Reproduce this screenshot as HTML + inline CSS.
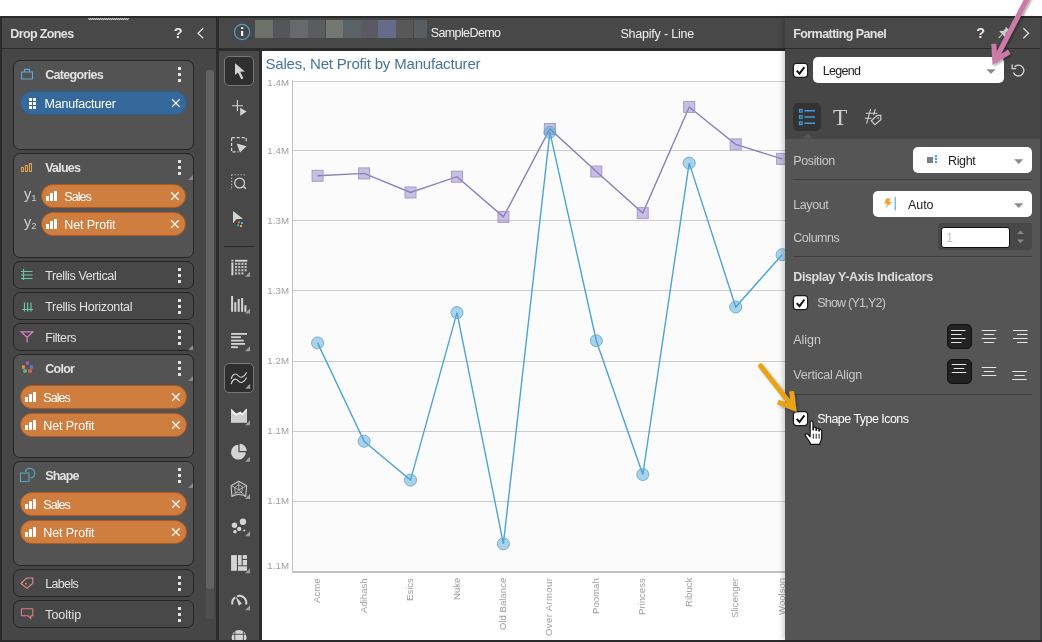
<!DOCTYPE html>
<html><head><meta charset="utf-8"><title>Shapify - Line</title>
<style>
html,body{margin:0;padding:0;background:#fff;}
body{width:1042px;height:642px;position:relative;overflow:hidden;font-family:"Liberation Sans", sans-serif;}
.b{position:absolute;box-sizing:border-box;}
.t{position:absolute;white-space:pre;display:block;}
svg{position:absolute;left:0;top:0;overflow:visible;}
</style></head><body>
<div class="b" style="left:0px;top:16px;width:1042px;height:626px;background:#2b2b2b;"></div>
<div class="b" style="left:2px;top:18px;width:214px;height:30px;background:#484848;"></div>
<div class="b" style="left:2px;top:49px;width:214px;height:591px;background:#464646;"></div>
<svg width="1042" height="642"><path d="M88.5 18 l1 2 l1 -2 l1 2 l1 -2 l1 2 l1 -2 l1 2 l1 -2 l1 2 l1 -2 l1 2 l1 -2 l1 2 l1 -2 l1 2 l1 -2 l1 2 l1 -2 l1 2 l1 -2 l1 2 l1 -2 l1 2 l1 -2 l1 2 l1 -2 l1 2 l1 -2 l1 2 l1 -2 l1 2 l1 -2 l1 2 l1 -2 l1 2 l1 -2 l1 2 l1 -2 l1 2 l1 -2" stroke="#dcdcdc" stroke-width="0.9" fill="none"/></svg>
<span class="t" style="left:10.3px;top:23.5px;height:20px;line-height:20px;font-size:12.5px;font-weight:700;color:#e2e2e2;letter-spacing:-0.625px;">Drop Zones</span>
<span class="t" style="left:173.8px;top:23.3px;height:20px;line-height:20px;font-size:14.5px;font-weight:700;color:#e8e8e8;">?</span>
<svg width="1042" height="642"><path d="M203.2 28.2 L198 33.2 L203.2 38.2" stroke="#e4e4e4" stroke-width="1.2" fill="none"/></svg>
<div class="b" style="left:206px;top:70px;width:8px;height:549px;background:#4f4f4f;border-radius:3px;"></div>
<div class="b" style="left:206px;top:70px;width:8px;height:519px;background:#626262;border-radius:3px;"></div>
<div class="b" style="left:13px;top:60px;width:181px;height:90px;background:#535353;border:1px solid #242424;border-radius:7px;"></div>
<span class="t" style="left:45.2px;top:65.0px;height:20px;line-height:20px;font-size:12.5px;font-weight:700;color:#e2e2e2;letter-spacing:-0.671px;">Categories</span>
<div class="b" style="left:178px;top:67px;width:3px;height:3px;background:#e4e4e4;"></div>
<div class="b" style="left:178px;top:73px;width:3px;height:3px;background:#e4e4e4;"></div>
<div class="b" style="left:178px;top:79px;width:3px;height:3px;background:#e4e4e4;"></div>
<div class="b" style="left:20px;top:91px;width:167px;height:24px;background:#36699b;border:1px solid #2f5d8b;border-radius:12px;"></div>
<div class="b" style="left:28.5px;top:98px;width:3px;height:3px;background:#fff;"></div>
<div class="b" style="left:32.5px;top:98px;width:3px;height:3px;background:#fff;"></div>
<div class="b" style="left:28.5px;top:102px;width:3px;height:3px;background:#fff;"></div>
<div class="b" style="left:32.5px;top:102px;width:3px;height:3px;background:#fff;"></div>
<div class="b" style="left:28.5px;top:106px;width:3px;height:3px;background:#fff;"></div>
<div class="b" style="left:32.5px;top:106px;width:3px;height:3px;background:#fff;"></div>
<span class="t" style="left:44.5px;top:94.2px;height:20px;line-height:20px;font-size:12.5px;font-weight:400;color:#fff;letter-spacing:-0.213px;">Manufacturer</span>
<svg width="1042" height="642"><path d="M172.1 99.3 L179.70000000000002 106.89999999999999 M179.70000000000002 99.3 L172.1 106.89999999999999" stroke="#fff" stroke-width="1.3" fill="none"/></svg>
<div class="b" style="left:13px;top:153px;width:181px;height:105px;background:#535353;border:1px solid #242424;border-radius:7px;"></div>
<span class="t" style="left:45.2px;top:158.0px;height:20px;line-height:20px;font-size:12.5px;font-weight:700;color:#e2e2e2;letter-spacing:-0.771px;">Values</span>
<div class="b" style="left:178px;top:160px;width:3px;height:3px;background:#e4e4e4;"></div>
<div class="b" style="left:178px;top:166px;width:3px;height:3px;background:#e4e4e4;"></div>
<div class="b" style="left:178px;top:172px;width:3px;height:3px;background:#e4e4e4;"></div>
<svg width="1042" height="642"><path d="M193 175 L193 180 L188 180 Z" fill="#8a8a8a"/></svg>
<span class="t" style="left:24px;top:183.5px;height:20px;line-height:20px;font-size:14.5px;font-weight:400;color:#d0d0d0;">y</span>
<span class="t" style="left:31.3px;top:187.5px;height:20px;line-height:20px;font-size:9.5px;font-weight:400;color:#d0d0d0;">1</span>
<span class="t" style="left:24px;top:211.5px;height:20px;line-height:20px;font-size:14.5px;font-weight:400;color:#d0d0d0;">y</span>
<span class="t" style="left:31.3px;top:215.5px;height:20px;line-height:20px;font-size:9.5px;font-weight:400;color:#d0d0d0;">2</span>
<div class="b" style="left:41px;top:184px;width:145px;height:24px;background:#d07e40;border:1px solid #ad5a22;border-radius:12px;"></div>
<div class="b" style="left:46px;top:196px;width:3px;height:5px;background:#fff;"></div>
<div class="b" style="left:50px;top:193px;width:3px;height:8px;background:#fff;"></div>
<div class="b" style="left:54px;top:191px;width:3px;height:10px;background:#fff;"></div>
<span class="t" style="left:64.3px;top:187.2px;height:20px;line-height:20px;font-size:12.5px;font-weight:400;color:#fff;letter-spacing:-0.936px;">Sales</span>
<svg width="1042" height="642"><path d="M171.1 192.29999999999998 L178.70000000000002 199.9 M178.70000000000002 192.29999999999998 L171.1 199.9" stroke="#fff" stroke-width="1.3" fill="none"/></svg>
<div class="b" style="left:41px;top:212px;width:145px;height:24px;background:#d07e40;border:1px solid #ad5a22;border-radius:12px;"></div>
<div class="b" style="left:46px;top:224px;width:3px;height:5px;background:#fff;"></div>
<div class="b" style="left:50px;top:221px;width:3px;height:8px;background:#fff;"></div>
<div class="b" style="left:54px;top:219px;width:3px;height:10px;background:#fff;"></div>
<span class="t" style="left:64.3px;top:215.2px;height:20px;line-height:20px;font-size:12.5px;font-weight:400;color:#fff;letter-spacing:-0.091px;">Net Profit</span>
<svg width="1042" height="642"><path d="M171.1 220.29999999999998 L178.70000000000002 227.9 M178.70000000000002 220.29999999999998 L171.1 227.9" stroke="#fff" stroke-width="1.3" fill="none"/></svg>
<div class="b" style="left:13px;top:261px;width:181px;height:28px;background:#484848;border:1px solid #242424;border-radius:7px;"></div>
<span class="t" style="left:45.2px;top:266.0px;height:20px;line-height:20px;font-size:12.5px;font-weight:400;color:#e2e2e2;letter-spacing:-0.390px;">Trellis Vertical</span>
<div class="b" style="left:178px;top:268px;width:3px;height:3px;background:#e4e4e4;"></div>
<div class="b" style="left:178px;top:274px;width:3px;height:3px;background:#e4e4e4;"></div>
<div class="b" style="left:178px;top:280px;width:3px;height:3px;background:#e4e4e4;"></div>
<div class="b" style="left:13px;top:292px;width:181px;height:28px;background:#484848;border:1px solid #242424;border-radius:7px;"></div>
<span class="t" style="left:45.2px;top:297.0px;height:20px;line-height:20px;font-size:12.5px;font-weight:400;color:#e2e2e2;letter-spacing:-0.312px;">Trellis Horizontal</span>
<div class="b" style="left:178px;top:299px;width:3px;height:3px;background:#e4e4e4;"></div>
<div class="b" style="left:178px;top:305px;width:3px;height:3px;background:#e4e4e4;"></div>
<div class="b" style="left:178px;top:311px;width:3px;height:3px;background:#e4e4e4;"></div>
<div class="b" style="left:13px;top:323px;width:181px;height:28px;background:#484848;border:1px solid #242424;border-radius:7px;"></div>
<span class="t" style="left:45.2px;top:328.0px;height:20px;line-height:20px;font-size:12.5px;font-weight:400;color:#e2e2e2;letter-spacing:-0.433px;">Filters</span>
<div class="b" style="left:178px;top:330px;width:3px;height:3px;background:#e4e4e4;"></div>
<div class="b" style="left:178px;top:336px;width:3px;height:3px;background:#e4e4e4;"></div>
<div class="b" style="left:178px;top:342px;width:3px;height:3px;background:#e4e4e4;"></div>
<svg width="1042" height="642"><path d="M193 345 L193 350 L188 350 Z" fill="#8a8a8a"/></svg>
<div class="b" style="left:13px;top:354px;width:181px;height:104px;background:#535353;border:1px solid #242424;border-radius:7px;"></div>
<span class="t" style="left:45.2px;top:359.0px;height:20px;line-height:20px;font-size:12.5px;font-weight:700;color:#e2e2e2;letter-spacing:-0.728px;">Color</span>
<div class="b" style="left:178px;top:361px;width:3px;height:3px;background:#e4e4e4;"></div>
<div class="b" style="left:178px;top:367px;width:3px;height:3px;background:#e4e4e4;"></div>
<div class="b" style="left:178px;top:373px;width:3px;height:3px;background:#e4e4e4;"></div>
<svg width="1042" height="642"><path d="M193 376 L193 381 L188 381 Z" fill="#8a8a8a"/></svg>
<div class="b" style="left:20px;top:385px;width:167px;height:24px;background:#d07e40;border:1px solid #ad5a22;border-radius:12px;"></div>
<div class="b" style="left:25px;top:397px;width:3px;height:5px;background:#fff;"></div>
<div class="b" style="left:29px;top:394px;width:3px;height:8px;background:#fff;"></div>
<div class="b" style="left:33px;top:392px;width:3px;height:10px;background:#fff;"></div>
<span class="t" style="left:43.3px;top:388.2px;height:20px;line-height:20px;font-size:12.5px;font-weight:400;color:#fff;letter-spacing:-0.936px;">Sales</span>
<svg width="1042" height="642"><path d="M172.1 393.3 L179.70000000000002 400.90000000000003 M179.70000000000002 393.3 L172.1 400.90000000000003" stroke="#fff" stroke-width="1.3" fill="none"/></svg>
<div class="b" style="left:20px;top:413px;width:167px;height:24px;background:#d07e40;border:1px solid #ad5a22;border-radius:12px;"></div>
<div class="b" style="left:25px;top:425px;width:3px;height:5px;background:#fff;"></div>
<div class="b" style="left:29px;top:422px;width:3px;height:8px;background:#fff;"></div>
<div class="b" style="left:33px;top:420px;width:3px;height:10px;background:#fff;"></div>
<span class="t" style="left:43.3px;top:416.2px;height:20px;line-height:20px;font-size:12.5px;font-weight:400;color:#fff;letter-spacing:-0.091px;">Net Profit</span>
<svg width="1042" height="642"><path d="M172.1 421.3 L179.70000000000002 428.90000000000003 M179.70000000000002 421.3 L172.1 428.90000000000003" stroke="#fff" stroke-width="1.3" fill="none"/></svg>
<div class="b" style="left:13px;top:461px;width:181px;height:105px;background:#535353;border:1px solid #242424;border-radius:7px;"></div>
<span class="t" style="left:45.2px;top:466.0px;height:20px;line-height:20px;font-size:12.5px;font-weight:700;color:#e2e2e2;letter-spacing:-0.803px;">Shape</span>
<div class="b" style="left:178px;top:468px;width:3px;height:3px;background:#e4e4e4;"></div>
<div class="b" style="left:178px;top:474px;width:3px;height:3px;background:#e4e4e4;"></div>
<div class="b" style="left:178px;top:480px;width:3px;height:3px;background:#e4e4e4;"></div>
<svg width="1042" height="642"><path d="M193 483 L193 488 L188 488 Z" fill="#8a8a8a"/></svg>
<div class="b" style="left:20px;top:492px;width:167px;height:24px;background:#d07e40;border:1px solid #ad5a22;border-radius:12px;"></div>
<div class="b" style="left:25px;top:504px;width:3px;height:5px;background:#fff;"></div>
<div class="b" style="left:29px;top:501px;width:3px;height:8px;background:#fff;"></div>
<div class="b" style="left:33px;top:499px;width:3px;height:10px;background:#fff;"></div>
<span class="t" style="left:43.3px;top:495.2px;height:20px;line-height:20px;font-size:12.5px;font-weight:400;color:#fff;letter-spacing:-0.936px;">Sales</span>
<svg width="1042" height="642"><path d="M172.1 500.3 L179.70000000000002 507.90000000000003 M179.70000000000002 500.3 L172.1 507.90000000000003" stroke="#fff" stroke-width="1.3" fill="none"/></svg>
<div class="b" style="left:20px;top:520px;width:167px;height:24px;background:#d07e40;border:1px solid #ad5a22;border-radius:12px;"></div>
<div class="b" style="left:25px;top:532px;width:3px;height:5px;background:#fff;"></div>
<div class="b" style="left:29px;top:529px;width:3px;height:8px;background:#fff;"></div>
<div class="b" style="left:33px;top:527px;width:3px;height:10px;background:#fff;"></div>
<span class="t" style="left:43.3px;top:523.2px;height:20px;line-height:20px;font-size:12.5px;font-weight:400;color:#fff;letter-spacing:-0.091px;">Net Profit</span>
<svg width="1042" height="642"><path d="M172.1 528.3000000000001 L179.70000000000002 535.9 M179.70000000000002 528.3000000000001 L172.1 535.9" stroke="#fff" stroke-width="1.3" fill="none"/></svg>
<div class="b" style="left:13px;top:569px;width:181px;height:28px;background:#484848;border:1px solid #242424;border-radius:7px;"></div>
<span class="t" style="left:45.2px;top:574.0px;height:20px;line-height:20px;font-size:12.5px;font-weight:400;color:#e2e2e2;letter-spacing:-0.641px;">Labels</span>
<div class="b" style="left:178px;top:576px;width:3px;height:3px;background:#e4e4e4;"></div>
<div class="b" style="left:178px;top:582px;width:3px;height:3px;background:#e4e4e4;"></div>
<div class="b" style="left:178px;top:588px;width:3px;height:3px;background:#e4e4e4;"></div>
<div class="b" style="left:13px;top:600px;width:181px;height:28px;background:#484848;border:1px solid #242424;border-radius:7px;"></div>
<span class="t" style="left:45.2px;top:605.0px;height:20px;line-height:20px;font-size:12.5px;font-weight:400;color:#e2e2e2;letter-spacing:-0.020px;">Tooltip</span>
<div class="b" style="left:178px;top:607px;width:3px;height:3px;background:#e4e4e4;"></div>
<div class="b" style="left:178px;top:613px;width:3px;height:3px;background:#e4e4e4;"></div>
<div class="b" style="left:178px;top:619px;width:3px;height:3px;background:#e4e4e4;"></div>
<svg width="1042" height="642" fill="none" stroke-width="1.1">
<!-- categories -->
<path d="M21.5 72 h11 v7 h-11 z M24.5 72 v-2.6 h5 v2.6" stroke="#5aa9d6"/>
<!-- values -->
<path d="M21.5 167.5 h2 v4 h-2 z M25.5 165.5 h2 v6 h-2 z M29.5 163.5 h2 v8 h-2 z" stroke="#d9a253"/>
<!-- trellis vertical -->
<path d="M23.5 269 v11 M21 271.5 h11.5 M21 275 h11.5 M21 278.5 h11.5" stroke="#6fc4a3" stroke-width="1.2"/>
<!-- trellis horizontal -->
<path d="M22 309.5 h11 M24.5 302.5 v9 M27.7 302.5 v9 M31 302.5 v9" stroke="#6fc4a3" stroke-width="1.2"/>
<!-- filters -->
<path d="M21.3 331.8 h11.6 l-5.8 5.6 z M27.1 337 v5.3" stroke="#d67cc6" stroke-width="1.3"/>
<!-- shape -->
<path d="M20.5 473 h8.5 v8.5 h-8.5 z" stroke="#52a9ba"/>
<path d="M25.3 472 a4.8 4.8 0 1 1 5 6" stroke="#52a9ba"/>
<!-- labels -->
<path d="M21 583.5 l5.5 -5.5 h6.3 v5.2 l-5.8 5.2 z" stroke="#dd8b8b"/>
<circle cx="26" cy="583.7" r="0.9" fill="#dd8b8b" stroke="none"/>
<!-- tooltip -->
<path d="M21.5 608.8 h11.3 v7 h-2 v2.6 l-2.8 -2.6 h-6.5 z" stroke="#e07e7e"/>
</svg>
<div class="b" style="left:25.7px;top:361.4px;width:3.6px;height:3.6px;border-radius:50%;background:#a45fc2"></div>
<div class="b" style="left:21.8px;top:365.0px;width:3.6px;height:3.6px;border-radius:50%;background:#e0913c"></div>
<div class="b" style="left:29.7px;top:365.0px;width:3.6px;height:3.6px;border-radius:50%;background:#4d86d0"></div>
<div class="b" style="left:23.0px;top:369.0px;width:3.6px;height:3.6px;border-radius:50%;background:#5fa889"></div>
<div class="b" style="left:28.3px;top:369.0px;width:3.6px;height:3.6px;border-radius:50%;background:#e0603c"></div>
<div class="b" style="left:219px;top:18px;width:823px;height:30px;background:#484848;"></div>
<svg width="1042" height="642"><circle cx="242.1" cy="32" r="7.6" fill="none" stroke="#4c9ed0" stroke-width="1.3"/><rect x="241" y="31" width="2.2" height="5" fill="#fff"/><rect x="241" y="27.2" width="2.2" height="1.7" fill="#fff"/></svg>
<div class="b" style="left:255.1px;top:20px;width:17.6px;height:18px;background:#6e706a;"></div>
<div class="b" style="left:272.7px;top:20px;width:17.6px;height:18px;background:#55565c;"></div>
<div class="b" style="left:290.3px;top:20px;width:17.6px;height:18px;background:#68696d;"></div>
<div class="b" style="left:307.9px;top:20px;width:17.6px;height:18px;background:#5b5c5e;"></div>
<div class="b" style="left:325.5px;top:20px;width:17.6px;height:18px;background:#737873;"></div>
<div class="b" style="left:343.1px;top:20px;width:17.6px;height:18px;background:#5a6266;"></div>
<div class="b" style="left:360.7px;top:20px;width:17.6px;height:18px;background:#5a5964;"></div>
<div class="b" style="left:378.3px;top:20px;width:17.6px;height:18px;background:#666c88;"></div>
<div class="b" style="left:395.9px;top:20px;width:17.6px;height:18px;background:#5a5758;"></div>
<div class="b" style="left:413.5px;top:20px;width:13.8px;height:18px;background:#575d60;"></div>
<span class="t" style="left:430.7px;top:23.0px;height:20px;line-height:20px;font-size:12.5px;font-weight:400;color:#f0f0f0;letter-spacing:-0.603px;">SampleDemo</span>
<span class="t" style="left:620.4px;top:23.5px;height:20px;line-height:20px;font-size:12.5px;font-weight:400;color:#f0f0f0;letter-spacing:-0.203px;">Shapify - Line</span>
<div class="b" style="left:219px;top:51px;width:40px;height:589px;background:#484848;"></div>
<div class="b" style="left:224px;top:56px;width:30px;height:30px;background:#2f2f2f;border:1px solid #787878;border-radius:5px;"></div>
<div class="b" style="left:224px;top:363px;width:30px;height:30px;background:#2f2f2f;border:1px solid #787878;border-radius:5px;"></div>
<div class="b" style="left:224px;top:246px;width:30px;height:1px;background:#2a2a2a;"></div>
<svg width="1042" height="642" fill="#d4d4d4"><path d="M235 63.3 V75 L237.9 72.4 L241.3 79.2 L243.4 78.2 L240.2 71.7 L244.9 71.6 Z"/><path d="M232 105.7 H243 M237.4 100 V111.2" stroke="#d4d4d4" stroke-width="1.1" fill="none"/><path d="M240.2 107.8 V115.8 L246.6 111.5 Z"/><path d="M231.6 137.7 H246.2 V142 M231.6 137.7 V151.9 H238.5" stroke="#d4d4d4" stroke-width="1.2" stroke-dasharray="3.2 1.8" fill="none"/><path d="M236.7 143.4 L246.6 146.2 L240 152.6 Z"/><path d="M231.6 174.7 H246.7 M231.6 174.7 V190" stroke="#d4d4d4" stroke-width="1.1" stroke-dasharray="1.1 1.9" fill="none"/><circle cx="239.6" cy="183" r="4.9" fill="none" stroke="#d4d4d4" stroke-width="1.2"/><path d="M243.2 186.4 L246 188.8" stroke="#d4d4d4" stroke-width="1.4"/><path d="M233 211 V223.2 L236.3 219.3 L243 218.7 Z"/><rect x="238" y="221.2" width="2" height="2" rx="0.5" fill="#ee6a4a"/><rect x="241" y="222.1" width="2" height="2" rx="0.5" fill="#4db4ee"/><rect x="237" y="224.2" width="2" height="2" rx="0.5" fill="#2fc39a"/><rect x="240" y="225" width="2" height="2" rx="0.5" fill="#eeb35a"/><rect x="231.4" y="259.8" width="2" height="1.6"/><rect x="231.4" y="262.3" width="2" height="13"/><rect x="235" y="259.8" width="12.3" height="1.9"/><rect x="235.0" y="262.8" width="2.1" height="2.1" fill="#bdbdbd"/><rect x="238.2" y="262.8" width="2.1" height="2.1" fill="#bdbdbd"/><rect x="241.4" y="262.8" width="2.1" height="2.1" fill="#bdbdbd"/><rect x="244.6" y="262.8" width="2.1" height="2.1" fill="#bdbdbd"/><rect x="235.0" y="266.0" width="2.1" height="2.1" fill="#bdbdbd"/><rect x="238.2" y="266.0" width="2.1" height="2.1" fill="#bdbdbd"/><rect x="241.4" y="266.0" width="2.1" height="2.1" fill="#bdbdbd"/><rect x="244.6" y="266.0" width="2.1" height="2.1" fill="#bdbdbd"/><rect x="235.0" y="269.2" width="2.1" height="2.1" fill="#bdbdbd"/><rect x="238.2" y="269.2" width="2.1" height="2.1" fill="#bdbdbd"/><rect x="241.4" y="269.2" width="2.1" height="2.1" fill="#bdbdbd"/><rect x="244.6" y="269.2" width="2.1" height="2.1" fill="#bdbdbd"/><rect x="235.0" y="272.4" width="2.1" height="2.1" fill="#bdbdbd"/><rect x="238.2" y="272.4" width="2.1" height="2.1" fill="#bdbdbd"/><rect x="241.4" y="272.4" width="2.1" height="2.1" fill="#bdbdbd"/><path d="M250 271.7 V276.7 H245 Z" fill="#a0a0a0"/><rect x="231.1" y="296" width="2" height="15.8"/><rect x="234.3" y="302.2" width="2" height="9.6"/><rect x="237.7" y="299" width="2" height="12.8"/><rect x="241.1" y="298" width="2" height="13.8"/><rect x="244.4" y="305.2" width="2" height="6.6"/><path d="M250 308.6 V313.6 H245 Z" fill="#a0a0a0"/><rect x="231.1" y="333" width="15.9" height="1.8"/><rect x="231.1" y="336.3" width="9.8" height="1.8"/><rect x="231.1" y="339.7" width="12.6" height="1.8"/><rect x="231.1" y="343" width="13.9" height="1.8"/><rect x="231.1" y="346.3" width="6.8" height="1.8"/><path d="M250 346.2 V351.2 H245 Z" fill="#a0a0a0"/><path d="M231.2 379 C232.5 373.5 236 372.8 238 375.5 C240.5 378.8 244 377.5 246.7 372.2" stroke="#d4d4d4" stroke-width="1.1" fill="none"/><path d="M231.2 384.2 C232.5 378.7 236 378 238 380.7 C240.5 384 244 382.7 246.7 377.4" stroke="#d4d4d4" stroke-width="1.1" fill="none"/><path d="M250.2 383.8 V388.8 H245.2 Z" fill="#a0a0a0"/><path d="M231.1 408.6 L234.5 412 L236.5 413.6 L238.5 412.6 L240.5 411.4 L242 413.2 L243.5 412 L245 410 L246.9 408.6 V422.4 H231.1 Z" fill="#f4f4f4"/><path d="M231.1 411.5 L233.5 413.8 L236.3 415.8 L238.5 414.5 L240.3 413.6 L242 415.8 L243.6 414 L245.2 412 L246.9 410.6 V422.4 H231.1 Z" fill="#cfcfcf"/><path d="M250 420.2 V425.2 H245 Z" fill="#a0a0a0"/><path d="M238.4 444.8 A7.4 7.4 0 1 0 245.8 452.2 H238.4 Z"/><path d="M239.6 443.8 A7.2 7.2 0 0 1 246.8 451 H239.6 Z"/><path d="M250 456.7 V461.7 H245 Z" fill="#a0a0a0"/><g fill="none" stroke="#c4c4c4" stroke-width="0.9" stroke-linejoin="round"><path d="M238.7 481.2 L246.6 485.7 L245.7 496.4 Q238.8 492.6 231.9 496.4 L231.1 485.7 Z" stroke-width="1.1"/><path d="M238.8 489.8 L238.7 481.2 M238.8 489.8 L246.6 485.7 M238.8 489.8 L245.7 496.4 M238.8 489.8 L231.9 496.4 M238.8 489.8 L231.1 485.7" stroke-width="0.8"/><path d="M238.7 484.6 L242.6 487 L241.6 492.6 L235.4 493 L234.6 487.6 Z" stroke-width="0.8"/></g><path d="M250 494 V499 H245 Z" fill="#a0a0a0"/><circle cx="242.9" cy="521.8" r="3.2"/><circle cx="234.5" cy="525.2" r="2.7"/><circle cx="239.2" cy="528.9" r="2.2"/><circle cx="235" cy="531.8" r="1.8"/><circle cx="244.3" cy="530.6" r="1"/><path d="M250 531.2 V536.2 H245 Z" fill="#a0a0a0"/><rect x="231.1" y="555.1" width="5.8" height="15.7"/><rect x="238" y="555.1" width="3.6" height="10.2"/><rect x="242.7" y="555.1" width="4.3" height="3.8"/><rect x="242.7" y="560" width="4.3" height="5.3"/><rect x="238" y="566.3" width="9" height="4.5"/><path d="M250 568.2 V573.2 H245 Z" fill="#a0a0a0"/><path d="M232.4 604.5 A6.8 6.8 0 0 1 235.2 597.3" stroke="#d4d4d4" stroke-width="2" fill="none"/><path d="M237.2 596.2 A6.8 6.8 0 0 1 246 604.5" stroke="#d4d4d4" stroke-width="2" fill="none"/><path d="M235.5 596 L241.8 603.4 L238.8 605.8 Z"/><path d="M250 605.2 V610.2 H245 Z" fill="#a0a0a0"/><clipPath id="gl"><rect x="225" y="625" width="30" height="15"/></clipPath><g clip-path="url(#gl)"><circle cx="239.1" cy="637.3" r="7.4"/><path d="M231 634.3 H247.5 M234.8 628 V641 M243.4 628 V641" stroke="#484848" stroke-width="0.9" fill="none"/></g></svg>
<div class="b" style="left:262px;top:51px;width:524px;height:589px;background:#fff;"></div>
<div class="b" style="left:293px;top:81px;width:493px;height:491px;background:#fbfbfb;"></div>
<span class="t" style="left:265.4px;top:54.0px;height:20px;line-height:20px;font-size:15px;font-weight:400;color:#44739c;letter-spacing:-0.180px;">Sales, Net Profit by Manufacturer</span>
<div class="b" style="left:293px;top:81px;width:493px;height:1px;background:#cdcdcd;"></div>
<div class="b" style="left:293px;top:150px;width:493px;height:1px;background:#cdcdcd;"></div>
<div class="b" style="left:293px;top:220px;width:493px;height:1px;background:#cdcdcd;"></div>
<div class="b" style="left:293px;top:290px;width:493px;height:1px;background:#cdcdcd;"></div>
<div class="b" style="left:293px;top:361px;width:493px;height:1px;background:#cdcdcd;"></div>
<div class="b" style="left:293px;top:431px;width:493px;height:1px;background:#cdcdcd;"></div>
<div class="b" style="left:293px;top:501px;width:493px;height:1px;background:#cdcdcd;"></div>
<div class="b" style="left:292px;top:80px;width:1px;height:492.5px;background:#c2c2c2;"></div>
<div class="b" style="left:292px;top:571px;width:494px;height:1.5px;background:#c2c2c2;"></div>
<span class="t" style="left:267.3px;top:72.7px;height:20px;line-height:20px;font-size:9.7px;font-weight:400;color:#a0a0a0;letter-spacing:0.063px;">1.4M</span>
<span class="t" style="left:267.3px;top:140.7px;height:20px;line-height:20px;font-size:9.7px;font-weight:400;color:#a0a0a0;letter-spacing:0.063px;">1.4M</span>
<span class="t" style="left:267.3px;top:210.7px;height:20px;line-height:20px;font-size:9.7px;font-weight:400;color:#a0a0a0;letter-spacing:0.063px;">1.3M</span>
<span class="t" style="left:267.3px;top:280.7px;height:20px;line-height:20px;font-size:9.7px;font-weight:400;color:#a0a0a0;letter-spacing:0.063px;">1.3M</span>
<span class="t" style="left:267.3px;top:350.7px;height:20px;line-height:20px;font-size:9.7px;font-weight:400;color:#a0a0a0;letter-spacing:0.063px;">1.2M</span>
<span class="t" style="left:267.3px;top:420.7px;height:20px;line-height:20px;font-size:9.7px;font-weight:400;color:#a0a0a0;letter-spacing:0.063px;">1.1M</span>
<span class="t" style="left:267.3px;top:490.7px;height:20px;line-height:20px;font-size:9.7px;font-weight:400;color:#a0a0a0;letter-spacing:0.063px;">1.1M</span>
<span class="t" style="left:267.3px;top:555.7px;height:20px;line-height:20px;font-size:9.7px;font-weight:400;color:#a0a0a0;letter-spacing:0.063px;">1.1M</span>
<span class="t" style="left:310.1px;top:578.4px;writing-mode:vertical-rl;transform:rotate(180deg);font-size:9.6px;color:#9e9e9e;width:13px;line-height:13px;height:66px;text-align:right;">Acme</span>
<span class="t" style="left:356.6px;top:578.4px;writing-mode:vertical-rl;transform:rotate(180deg);font-size:9.6px;color:#9e9e9e;width:13px;line-height:13px;height:66px;text-align:right;">Adihash</span>
<span class="t" style="left:403.0px;top:578.4px;writing-mode:vertical-rl;transform:rotate(180deg);font-size:9.6px;color:#9e9e9e;width:13px;line-height:13px;height:66px;text-align:right;">Esics</span>
<span class="t" style="left:449.5px;top:578.4px;writing-mode:vertical-rl;transform:rotate(180deg);font-size:9.6px;color:#9e9e9e;width:13px;line-height:13px;height:66px;text-align:right;">Nuke</span>
<span class="t" style="left:495.9px;top:578.4px;writing-mode:vertical-rl;transform:rotate(180deg);font-size:9.6px;color:#9e9e9e;width:13px;line-height:13px;height:66px;text-align:right;">Old Balance</span>
<span class="t" style="left:542.4px;top:578.4px;writing-mode:vertical-rl;transform:rotate(180deg);font-size:9.6px;color:#9e9e9e;width:13px;line-height:13px;height:66px;text-align:right;letter-spacing:0.35px;">Over Armour</span>
<span class="t" style="left:588.8px;top:578.4px;writing-mode:vertical-rl;transform:rotate(180deg);font-size:9.6px;color:#9e9e9e;width:13px;line-height:13px;height:66px;text-align:right;">Poomah</span>
<span class="t" style="left:635.2px;top:578.4px;writing-mode:vertical-rl;transform:rotate(180deg);font-size:9.6px;color:#9e9e9e;width:13px;line-height:13px;height:66px;text-align:right;">Princess</span>
<span class="t" style="left:681.7px;top:578.4px;writing-mode:vertical-rl;transform:rotate(180deg);font-size:9.6px;color:#9e9e9e;width:13px;line-height:13px;height:66px;text-align:right;">Ribuck</span>
<span class="t" style="left:728.2px;top:578.4px;writing-mode:vertical-rl;transform:rotate(180deg);font-size:9.6px;color:#9e9e9e;width:13px;line-height:13px;height:66px;text-align:right;">Slicenger</span>
<span class="t" style="left:774.6px;top:578.4px;writing-mode:vertical-rl;transform:rotate(180deg);font-size:9.6px;color:#9e9e9e;width:13px;line-height:13px;height:66px;text-align:right;">Woolson</span>
<div class="b" style="left:0;top:0;width:785px;height:642px;overflow:hidden;"><svg width="786" height="642"><polyline fill="none" stroke="#8b7fb9" stroke-width="1.4" points="317.6,175.8 364.1,173.4 410.5,192.5 457.0,176.7 503.4,216.9 549.9,129.0 596.3,171.5 642.8,213.1 689.2,107.0 735.7,144.4 782.1,158.9"/><polyline fill="none" stroke="#4ea4d2" stroke-width="1.4" points="317.6,342.9 364.1,441.2 410.5,480.1 457.0,312.6 503.4,543.8 549.9,132.3 596.3,340.7 642.8,474.5 689.2,163.1 735.7,307.0 782.1,254.7"/><rect x="312.1" y="170.3" width="11" height="11" fill="#8a7cc4" fill-opacity="0.47" stroke="#a79bd0" stroke-width="1"/><rect x="358.6" y="167.9" width="11" height="11" fill="#8a7cc4" fill-opacity="0.47" stroke="#a79bd0" stroke-width="1"/><rect x="405.0" y="187.0" width="11" height="11" fill="#8a7cc4" fill-opacity="0.47" stroke="#a79bd0" stroke-width="1"/><rect x="451.5" y="171.2" width="11" height="11" fill="#8a7cc4" fill-opacity="0.47" stroke="#a79bd0" stroke-width="1"/><rect x="497.9" y="211.4" width="11" height="11" fill="#8a7cc4" fill-opacity="0.47" stroke="#a79bd0" stroke-width="1"/><rect x="544.4" y="123.5" width="11" height="11" fill="#8a7cc4" fill-opacity="0.47" stroke="#a79bd0" stroke-width="1"/><rect x="590.8" y="166.0" width="11" height="11" fill="#8a7cc4" fill-opacity="0.47" stroke="#a79bd0" stroke-width="1"/><rect x="637.2" y="207.6" width="11" height="11" fill="#8a7cc4" fill-opacity="0.47" stroke="#a79bd0" stroke-width="1"/><rect x="683.7" y="101.5" width="11" height="11" fill="#8a7cc4" fill-opacity="0.47" stroke="#a79bd0" stroke-width="1"/><rect x="730.2" y="138.9" width="11" height="11" fill="#8a7cc4" fill-opacity="0.47" stroke="#a79bd0" stroke-width="1"/><rect x="776.6" y="153.4" width="11" height="11" fill="#8a7cc4" fill-opacity="0.47" stroke="#a79bd0" stroke-width="1"/><circle cx="317.6" cy="342.9" r="6" fill="#4ba3d3" fill-opacity="0.46" stroke="#6db0d8" stroke-width="1"/><circle cx="364.1" cy="441.2" r="6" fill="#4ba3d3" fill-opacity="0.46" stroke="#6db0d8" stroke-width="1"/><circle cx="410.5" cy="480.1" r="6" fill="#4ba3d3" fill-opacity="0.46" stroke="#6db0d8" stroke-width="1"/><circle cx="457.0" cy="312.6" r="6" fill="#4ba3d3" fill-opacity="0.46" stroke="#6db0d8" stroke-width="1"/><circle cx="503.4" cy="543.8" r="6" fill="#4ba3d3" fill-opacity="0.46" stroke="#6db0d8" stroke-width="1"/><circle cx="549.9" cy="132.3" r="6" fill="#4ba3d3" fill-opacity="0.46" stroke="#6db0d8" stroke-width="1"/><circle cx="596.3" cy="340.7" r="6" fill="#4ba3d3" fill-opacity="0.46" stroke="#6db0d8" stroke-width="1"/><circle cx="642.8" cy="474.5" r="6" fill="#4ba3d3" fill-opacity="0.46" stroke="#6db0d8" stroke-width="1"/><circle cx="689.2" cy="163.1" r="6" fill="#4ba3d3" fill-opacity="0.46" stroke="#6db0d8" stroke-width="1"/><circle cx="735.7" cy="307.0" r="6" fill="#4ba3d3" fill-opacity="0.46" stroke="#6db0d8" stroke-width="1"/><circle cx="782.1" cy="254.7" r="6" fill="#4ba3d3" fill-opacity="0.46" stroke="#6db0d8" stroke-width="1"/></svg></div>
<div class="b" style="left:785px;top:18px;width:255px;height:622px;background:#464646;box-shadow:-2px 0 5px rgba(0,0,0,0.2);"></div>
<div class="b" style="left:785px;top:18px;width:255px;height:30px;background:#484848;"></div>
<div class="b" style="left:785px;top:48px;width:255px;height:1px;background:#2c2c2c;"></div>
<div class="b" style="left:785px;top:49px;width:255px;height:89.5px;background:#464646;"></div>
<div class="b" style="left:785px;top:138.5px;width:255px;height:501.5px;background:#555555;"></div>
<div class="b" style="left:1040px;top:18px;width:2px;height:622px;background:#404040;"></div>
<span class="t" style="left:793.2px;top:23.5px;height:20px;line-height:20px;font-size:12.5px;font-weight:700;color:#e2e2e2;letter-spacing:-0.568px;">Formatting Panel</span>
<span class="t" style="left:976.2px;top:23.3px;height:20px;line-height:20px;font-size:14.5px;font-weight:700;color:#e8e8e8;">?</span>
<svg width="1042" height="642"><path d="M1023.4 28.3 L1028.6 33.3 L1023.4 38.3" stroke="#e4e4e4" stroke-width="1.2" fill="none"/></svg>
<svg width="1042" height="642"><g transform="translate(1003.5,33) rotate(45)" fill="#cfcfcf"><path d="M-2.5 -6 h5 v1.2 h-0.8 v3.6 l2.2 2 v1 h-7.8 v-1 l2.2 -2 v-3.6 h-0.8 z"/><rect x="-0.5" y="1.8" width="1" height="5"/></g></svg>
<svg width="1042" height="642"><rect x="793.4" y="63.3" width="14.2" height="14" rx="3" fill="#fff" stroke="#1c1c1c" stroke-width="1.2"/><path d="M796.8 70.7 L799.5 73.7 L804.4 67.1" stroke="#111" stroke-width="2" fill="none"/></svg>
<div class="b" style="left:813px;top:57px;width:191px;height:26px;background:#fff;border-radius:5px;"></div>
<span class="t" style="left:822.7px;top:61.2px;height:20px;line-height:20px;font-size:12.5px;font-weight:400;color:#222;letter-spacing:-0.670px;">Legend</span>
<svg width="1042" height="642"><path d="M986.4 69.3 h9.2 l-4.6 4.7 z" fill="#8c8c8c"/></svg>
<svg width="1042" height="642"><path d="M1014.6 66.8 A5.4 5.4 0 1 1 1013.4 72.5" stroke="#d8d8d8" stroke-width="1.3" fill="none"/><path d="M1012.2 64.6 v4 h4" stroke="#d8d8d8" stroke-width="1.3" fill="none"/></svg>
<div class="b" style="left:793px;top:103px;width:28px;height:28px;background:#333;border-radius:5px;"></div>
<svg width="1042" height="642"><path d="M802 138.8 l5.5 -5.5 l5.5 5.5 z" fill="#555"/></svg>
<svg width="1042" height="642" fill="none" stroke="#3f9fe0" stroke-width="1.2">
<rect x="799.5" y="109.5" width="2.6" height="2.6"/><rect x="799.5" y="115.7" width="2.6" height="2.6"/><rect x="799.5" y="121.9" width="2.6" height="2.6"/>
<path d="M804.5 110.8 h10.5 M804.5 117 h10.5 M804.5 123.2 h10.5" stroke-width="1.4"/></svg>
<span class="t" style="left:832.9px;top:102.2px;font-family:'Liberation Serif',serif;font-size:23.4px;line-height:30px;color:#cdcdcd;">T</span>
<svg width="1042" height="642" fill="none" stroke="#d0d0d0" stroke-width="1.1">
<path d="M870.6 109.1 L866.6 123.7 M875.3 109.1 L873.6 115 M865.8 113.3 H877.2 M864.8 118.3 H871.5"/>
<path d="M871.3 120.8 L877.2 115.4 H880.8 V119.8 L874.9 124.6 Z" stroke-width="1.2"/>
<rect x="877.4" y="117.3" width="1.5" height="1.5" fill="#d0d0d0" stroke="none"/></svg>
<span class="t" style="left:793.3px;top:150.5px;height:20px;line-height:20px;font-size:12.5px;font-weight:400;color:#c8c8c8;letter-spacing:-0.373px;">Position</span>
<div class="b" style="left:913.2px;top:147px;width:118.5px;height:26px;background:#fff;border-radius:5px;"></div>
<span class="t" style="left:948px;top:151.2px;height:20px;line-height:20px;font-size:12.5px;font-weight:400;color:#222;letter-spacing:-0.358px;">Right</span>
<svg width="1042" height="642"><path d="M1014.1 159.3 h9.2 l-4.6 4.7 z" fill="#8c8c8c"/></svg>
<div class="b" style="left:927px;top:157px;width:5.6px;height:6px;background:#808080;"></div>
<div class="b" style="left:935px;top:155px;width:1.6px;height:1.8px;background:#3f9fe0;"></div>
<div class="b" style="left:935px;top:158px;width:1.6px;height:1.8px;background:#3f9fe0;"></div>
<div class="b" style="left:935px;top:161px;width:1.6px;height:1.8px;background:#3f9fe0;"></div>
<div class="b" style="left:793px;top:179px;width:239px;height:1px;background:#3e3e3e;"></div>
<span class="t" style="left:793.3px;top:194.5px;height:20px;line-height:20px;font-size:12.5px;font-weight:400;color:#c8c8c8;letter-spacing:-0.422px;">Layout</span>
<div class="b" style="left:873px;top:191px;width:158.7px;height:26px;background:#fff;border-radius:5px;"></div>
<span class="t" style="left:908px;top:195.2px;height:20px;line-height:20px;font-size:12.5px;font-weight:400;color:#222;letter-spacing:-0.055px;">Auto</span>
<svg width="1042" height="642"><path d="M1014.1 203.3 h9.2 l-4.6 4.7 z" fill="#8c8c8c"/></svg>
<svg width="1042" height="642"><path d="M886 198.5 h4.5 l-1.5 3.6 h3 l-6.5 6.2 l2 -4.6 h-3 z" fill="#f0a030"/><rect x="894.7" y="197" width="1" height="13.5" fill="#3f9fe0"/></svg>
<span class="t" style="left:793.3px;top:228.0px;height:20px;line-height:20px;font-size:12.5px;font-weight:400;color:#c8c8c8;letter-spacing:-0.475px;">Columns</span>
<div class="b" style="left:938px;top:223px;width:94px;height:26.5px;background:#484848;border-radius:3px;"></div>
<div class="b" style="left:941px;top:226.5px;width:68.5px;height:21px;background:#fff;border:1px solid #111;border-radius:3px;"></div>
<span class="t" style="left:946.3px;top:227.5px;height:20px;line-height:20px;font-size:12px;font-weight:400;color:#c2c2c2;">1</span>
<svg width="1042" height="642"><path d="M1017 234 l3.5 -3.5 l3.5 3.5 z M1017 239.5 l3.5 3.5 l3.5 -3.5 z" fill="#8a8a8a"/></svg>
<div class="b" style="left:793px;top:256px;width:239px;height:1px;background:#3e3e3e;"></div>
<span class="t" style="left:793.3px;top:266.5px;height:20px;line-height:20px;font-size:12.5px;font-weight:700;color:#dcdcdc;letter-spacing:-0.382px;">Display Y-Axis Indicators</span>
<svg width="1042" height="642"><rect x="793.4" y="295.7" width="14.2" height="14" rx="3" fill="#fff" stroke="#1c1c1c" stroke-width="1.2"/><path d="M796.8 303.09999999999997 L799.5 306.09999999999997 L804.4 299.5" stroke="#111" stroke-width="2" fill="none"/></svg>
<span class="t" style="left:817.2px;top:292.7px;height:20px;line-height:20px;font-size:12.5px;font-weight:400;color:#c8c8c8;letter-spacing:-0.769px;">Show (Y1,Y2)</span>
<span class="t" style="left:793.3px;top:330.0px;height:20px;line-height:20px;font-size:12.5px;font-weight:400;color:#c8c8c8;letter-spacing:-0.059px;">Align</span>
<span class="t" style="left:793.3px;top:365.0px;height:20px;line-height:20px;font-size:12.5px;font-weight:400;color:#c8c8c8;letter-spacing:-0.206px;">Vertical Align</span>
<div class="b" style="left:947px;top:324px;width:25px;height:25px;background:#222;border:1px solid #101010;border-radius:5px;"></div>
<div class="b" style="left:947px;top:359px;width:25px;height:25px;background:#222;border:1px solid #101010;border-radius:5px;"></div>
<svg width="1042" height="642" fill="#e6e6e6"><rect x="951.0" y="330.0" width="14.5" height="1"/><rect x="951.0" y="334.0" width="10.5" height="1"/><rect x="951.0" y="338.0" width="14.5" height="1"/><rect x="951.0" y="342.0" width="10.5" height="1"/><rect x="981.75" y="330.0" width="14.5" height="1"/><rect x="983.75" y="334.0" width="10.5" height="1"/><rect x="981.75" y="338.0" width="14.5" height="1"/><rect x="983.75" y="342.0" width="10.5" height="1"/><rect x="1013.0" y="330.0" width="14.5" height="1"/><rect x="1017.0" y="334.0" width="10.5" height="1"/><rect x="1013.0" y="338.0" width="14.5" height="1"/><rect x="1017.0" y="342.0" width="10.5" height="1"/><rect x="951.75" y="364.0" width="14.5" height="1"/><rect x="953.75" y="368.0" width="10.5" height="1"/><rect x="951.75" y="372.0" width="14.5" height="1"/><rect x="981.75" y="367.0" width="14.5" height="1"/><rect x="983.75" y="371.0" width="10.5" height="1"/><rect x="981.75" y="375.0" width="14.5" height="1"/><rect x="1012.25" y="371.0" width="14.5" height="1"/><rect x="1014.25" y="375.0" width="10.5" height="1"/><rect x="1012.25" y="379.0" width="14.5" height="1"/></svg>
<div class="b" style="left:793px;top:394px;width:239px;height:1px;background:#3e3e3e;"></div>
<svg width="1042" height="642"><rect x="793.4" y="411.6" width="14.2" height="14" rx="3" fill="#fff" stroke="#1c1c1c" stroke-width="1.2"/><path d="M796.8 419.0 L799.5 422.0 L804.4 415.40000000000003" stroke="#111" stroke-width="2" fill="none"/></svg>
<span class="t" style="left:817.2px;top:408.7px;height:20px;line-height:20px;font-size:12.5px;font-weight:400;color:#ffffff;letter-spacing:-0.534px;">Shape Type Icons</span>
<svg width="1042" height="642">
<defs><filter id="sh" x="-20%" y="-20%" width="140%" height="140%"><feDropShadow dx="1.5" dy="1.5" stdDeviation="1.2" flood-color="#000" flood-opacity="0.35"/></filter></defs>
<g filter="url(#sh)" stroke="#cb7aaa" stroke-width="5" fill="none" stroke-linejoin="miter" stroke-miterlimit="10"><path d="M1028.5 -4.0 L995.3 59.9" stroke-linecap="round"/><path d="M1009.3 51.9 L994.8 60.8 L993.8 43.8" stroke-linecap="butt"/></g>
<g filter="url(#sh)" stroke="#e9a315" stroke-width="5" fill="none" stroke-linejoin="miter" stroke-miterlimit="10"><path d="M760.6 366.0 L793.1 407.3" stroke-linecap="round"/><path d="M791.6 391.2 L793.7 408.1 L777.8 402.0" stroke-linecap="butt"/></g>
<!-- hand cursor -->
<g transform="translate(804.2,420.8) scale(1.08)">
<path d="M5.5 1.2 c0-1.6 2.6-1.6 2.6 0 v7.3 l0.4 0 v-1.6 c0-1.4 2.4-1.4 2.4 0 v2 l0.4 0 v-1.2 c0-1.3 2.3-1.3 2.3 0 v1.8 l0.4 0 v-0.8 c0-1.2 2.2-1.2 2.2 0 v6.3 c0 3.5-1.5 4.2-1.9 6.8 h-8.3 c-0.5-2.2-2.3-4.3-4.5-7.3 c-1.6-2.2 0.6-3.3 2-1.9 l2 2.2 z" fill="#fff" stroke="#111" stroke-width="1.1" stroke-linejoin="round"/>
<path d="M8.4 12 v4.5 M11.1 12 v4.5 M13.8 12 v4.5" stroke="#111" stroke-width="0.9"/>
</g>
</svg>
</body></html>
